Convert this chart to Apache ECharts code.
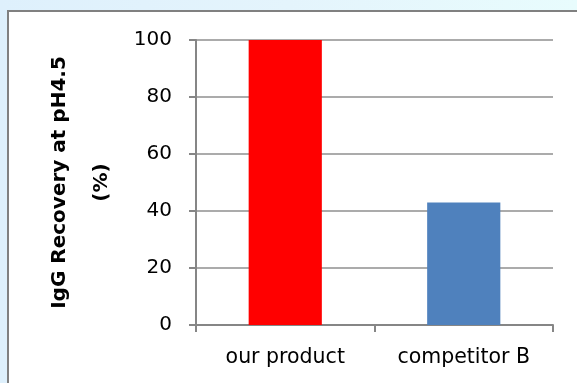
<!DOCTYPE html>
<html>
<head>
<meta charset="utf-8">
<script src="https://cdn.jsdelivr.net/npm/echarts@6/dist/echarts.min.js"></script>
<style>
  html, body { margin: 0; padding: 0; }
  body {
    width: 577px; height: 383px; overflow: hidden; position: relative;
    background: linear-gradient(90deg, #def0fc 0%, #e4f4fc 50%, #e8fcfd 100%);
  }
  #frame {
    position: absolute; left: 7px; top: 10px; width: 600px; height: 400px;
    background: #fff; border: 2px solid #808080;
  }
  #chart { position: absolute; left: 0; top: 0; width: 577px; height: 383px; }
</style>
</head>
<body>
<div id="frame"></div>
<div id="chart"></div>
<script>
// 数据
var categories = ['our product', 'competitor B'];
var values = [100, 43];
var barColors = ['#ff0000', '#4f81bd'];
var yTicks = { min: 0, max: 100, interval: 20 };

var chart = echarts.init(document.getElementById('chart'));
var option = {
  animation: false,
  backgroundColor: 'transparent',
  grid: { left: 196, right: 24, top: 40, bottom: 58 },
  xAxis: {
    type: 'category',
    data: categories,
    axisLine: { lineStyle: { color: '#868686', width: 2 } },
    axisTick: { show: true, length: 7, lineStyle: { color: '#868686', width: 2 } },
    axisLabel: { color: '#000', fontFamily: 'DejaVu Sans', fontSize: 20.5, margin: 22 }
  },
  yAxis: {
    type: 'value',
    min: yTicks.min, max: yTicks.max, interval: yTicks.interval,
    name: 'IgG Recovery at pH4.5\n(%)',
    nameLocation: 'middle',
    nameRotate: 90,
    nameGap: 60,
    nameTextStyle: { color: '#000', fontFamily: 'DejaVu Sans', fontWeight: 'bold', fontSize: 20, lineHeight: 42 },
    axisLine: { show: true, lineStyle: { color: '#868686', width: 2 } },
    axisTick: { show: true, length: 7, lineStyle: { color: '#868686', width: 2 } },
    axisLabel: { color: '#000', fontFamily: 'DejaVu Sans', fontSize: 20, margin: 24 },
    splitLine: { lineStyle: { color: '#8f8f8f', width: 1.5 } }
  },
  series: [{
    type: 'bar',
    barWidth: '41%',
    data: values.map(function (v, i) {
      return { value: v, itemStyle: { color: barColors[i] } };
    })
  }]
};
chart.setOption(option);
</script>
</body>
</html>
